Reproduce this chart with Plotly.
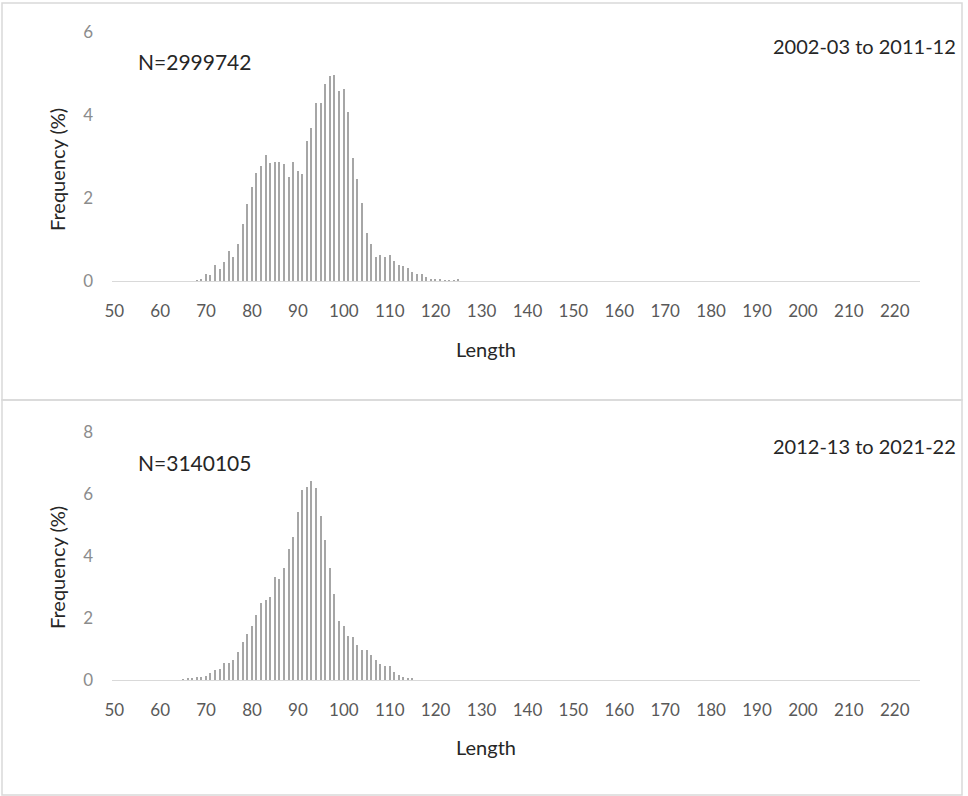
import plotly.graph_objects as go

# length classes (cm) and frequency (%) for the two periods
len_top = list(range(68, 126))
freq_top = [0.01, 0.03,
            0.18, 0.14, 0.39, 0.28, 0.47, 0.73, 0.59, 0.88, 1.37, 1.86,
            2.27, 2.61, 2.77, 3.04, 2.85, 2.86, 2.86, 2.81, 2.51, 2.86,
            2.66, 2.59, 3.38, 3.69, 4.28, 4.28, 4.74, 4.94, 4.97, 4.59,
            4.62, 4.08, 2.97, 2.47, 1.89, 1.16, 0.89, 0.57, 0.63, 0.59,
            0.63, 0.49, 0.39, 0.35, 0.31, 0.22, 0.18, 0.18, 0.10, 0.05,
            0.04, 0.03, 0.01, 0.01, 0.01, 0.03]

len_bot = list(range(65, 116))
freq_bot = [0.03, 0.04, 0.04, 0.09, 0.09,
            0.13, 0.23, 0.33, 0.35, 0.54, 0.54, 0.65, 0.91, 1.23, 1.48,
            1.74, 2.10, 2.49, 2.57, 2.67, 3.31, 3.26, 3.60, 4.23, 4.62,
            5.41, 6.13, 6.24, 6.43, 6.18, 5.30, 4.53, 3.60, 2.77, 1.91,
            1.75, 1.43, 1.38, 1.12, 0.98, 0.98, 0.81, 0.65, 0.52, 0.44,
            0.45, 0.25, 0.17, 0.09, 0.06, 0.04]

x_ticks = list(range(50, 221, 10))
labels_n = ["N=2999742", "N=3140105"]
labels_period = ["2002-03 to 2011-12", "2012-13 to 2021-22"]

W, H = 968, 796
def px(x):
    return x / W
def py(y):
    return 1 - y / H

FONT = "Lato, Calibri, Open Sans, sans-serif"
BAR = "#a6a6a6"

fig = go.Figure()
fig.add_trace(go.Bar(x=len_top, y=freq_top, width=0.32, marker_color=BAR,
                     marker_line_width=0, xaxis="x", yaxis="y", showlegend=False))
fig.add_trace(go.Bar(x=len_bot, y=freq_bot, width=0.32, marker_color=BAR,
                     marker_line_width=0, xaxis="x2", yaxis="y2", showlegend=False))

xcommon = dict(range=[49.5, 225.5], tickvals=x_ticks, showgrid=False, zeroline=False,
               showline=True, linecolor="#d9d9d9", linewidth=1, ticks="", automargin=False,
               ticklabelstandoff=15, tickfont=dict(family=FONT, size=17, color="#595959"),
               domain=[px(112), px(920)])
ycommon = dict(showgrid=False, zeroline=False, showline=False, ticks="", automargin=False,
               ticklabelstandoff=18, tickfont=dict(family=FONT, size=17, color="#8c8c8c"))

fig.update_layout(
    template="none",
    width=W, height=H, autosize=False,
    margin=dict(l=0, r=0, t=0, b=0, pad=0),
    paper_bgcolor="white", plot_bgcolor="white",
    bargap=0, showlegend=False,
    xaxis=dict(xcommon, anchor="y"),
    yaxis=dict(ycommon, range=[0, 6], tickvals=[0, 2, 4, 6],
               domain=[py(281), py(32)], anchor="x"),
    xaxis2=dict(xcommon, anchor="y2"),
    yaxis2=dict(ycommon, range=[0, 8], tickvals=[0, 2, 4, 6, 8],
                domain=[py(680), py(432)], anchor="x2"),
)

# panel borders
for y0, y1 in [(3, 400), (400, 795)]:
    fig.add_shape(type="rect", xref="paper", yref="paper",
                  x0=px(2), x1=px(962), y0=py(y1), y1=py(y0),
                  line=dict(color="#d9d9d9", width=1.5), fillcolor="rgba(0,0,0,0)")

ann = []
for i, (top, ylen, yfreq) in enumerate([(40, 349, 170), (440, 747, 568)]):
    ann.append(dict(text=labels_n[i], x=px(136), y=py(top + 22), xanchor="left", yanchor="middle",
                    font=dict(family=FONT, size=21, color="#262626")))
    ann.append(dict(text=labels_period[i], x=px(958), y=py(top + 6), xanchor="right", yanchor="middle",
                    font=dict(family=FONT, size=20, color="#262626")))
    ann.append(dict(text="Length", x=px(486), y=py(ylen), xanchor="center", yanchor="middle",
                    font=dict(family=FONT, size=20, color="#262626")))
    ann.append(dict(text="Frequency (%)", x=px(57), y=py(yfreq), xanchor="center", yanchor="middle",
                    textangle=-90, font=dict(family=FONT, size=20, color="#262626")))
for a in ann:
    a.update(xref="paper", yref="paper", showarrow=False)
fig.update_layout(annotations=ann)

fig.write_html("out.html", config={"displayModeBar": False},
               post_script="document.body.style.margin='0';")
